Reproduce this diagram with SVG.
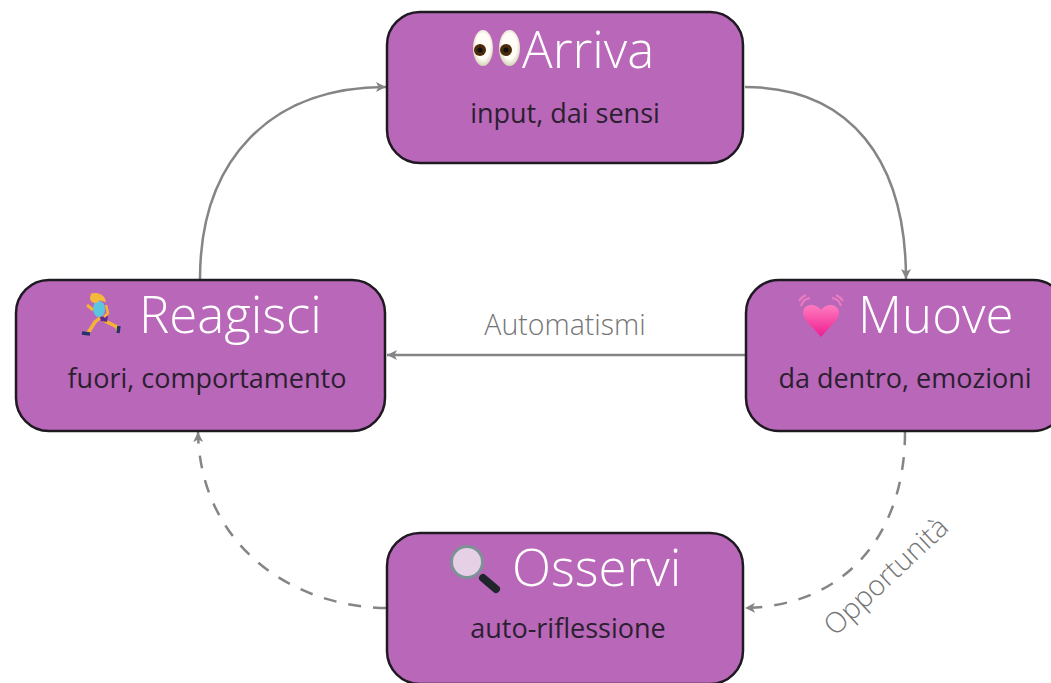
<svg xmlns="http://www.w3.org/2000/svg" width="1051" height="683" viewBox="0 0 1051 683">
<defs>
<marker id="arrow" markerUnits="userSpaceOnUse" markerWidth="12" markerHeight="12" refX="10" refY="5" orient="auto"><path d="M0 0L10 5L0 10L2.5 5Z" fill="#858585"/></marker>
<radialGradient id="eye" cx="0.5" cy="0.45" r="0.6"><stop offset="0.6" stop-color="#fffdf5"/><stop offset="1" stop-color="#c9c6a8"/></radialGradient>
<linearGradient id="heart" x1="0" y1="0" x2="0" y2="1"><stop offset="0" stop-color="#ff7cc0"/><stop offset="1" stop-color="#ee1d90"/></linearGradient>
</defs>
<style>
.box{fill:#b967b9;stroke:#1f1a22;stroke-width:2.5}
.title{font-family:"Open Sans","Noto Sans",sans-serif;font-size:51px;font-weight:300;fill:#fff}
.sub{font-family:"Open Sans","Noto Sans",sans-serif;font-size:27px;fill:#2b1f30}
.lbl{font-family:"Open Sans","Noto Sans",sans-serif;font-size:28.5px;font-weight:300;fill:#757575}
.c{fill:none;stroke:#858585;stroke-width:2.5;marker-end:url(#arrow)}
.d{stroke-dasharray:13 12}
</style>
<rect width="1051" height="683" fill="#fff"/>
<g id="connectors">
<path class="c" d="M745 87C850 87 906 160 906 279"/>
<path class="c" d="M745 355H387"/>
<path class="c" d="M200 279C200 160 270 87 386 87"/>
<path class="c d" d="M905 432C905 535 845 606 745 608"/>
<path class="c d" d="M386 608C285 606 200 540 198 432"/>
<text class="lbl" x="565" y="335" text-anchor="middle">Automatismi</text>
<text class="lbl" transform="translate(835 637) rotate(-43)">Opportunità</text>
</g>
<g id="arriva">
<rect class="box" x="387" y="12" width="356" height="151" rx="33"/>
<ellipse cx="483" cy="48" rx="10" ry="18" fill="url(#eye)"/><ellipse cx="509.500" cy="48" rx="10.500" ry="18" fill="url(#eye)"/>
<circle cx="480" cy="50" r="6" fill="#4a2a08"/><circle cx="506" cy="50" r="6" fill="#4a2a08"/>
<circle cx="480" cy="50" r="2.500" fill="#111"/><circle cx="506" cy="50" r="2.500" fill="#111"/>
<text class="title" x="522" y="68">Arriva</text>
<text class="sub" x="565" y="123" text-anchor="middle">input, dai sensi</text>
</g>
<g id="reagisci">
<rect class="box" x="16" y="280" width="369" height="151" rx="33"/>
<path d="M100 318L95 322L88 333" fill="none" stroke="#f5b335" stroke-width="3.500"/>
<path d="M103 320L117 327L118 332" fill="none" stroke="#f5b335" stroke-width="3.500"/>
<path d="M82 333L90 334" stroke="#27336e" stroke-width="3.500"/><path d="M119 326L118 333" stroke="#27336e" stroke-width="3.500"/>
<ellipse cx="99" cy="309" rx="6" ry="8" fill="#5cc6e0"/>
<path d="M100 317L108 316L107 322L101 321Z" fill="#5b2a8a"/>
<path d="M106 305L108 313L104 317" fill="none" stroke="#f5b335" stroke-width="2.500"/>
<circle cx="95" cy="298" r="5" fill="#f4b93a"/><path d="M90 294C98 291 105 295 106 302L98 300Z" fill="#f4b93a"/>
<path d="M87 305L93 310" stroke="#f5b335" stroke-width="3"/>
<text class="title" x="139" y="333">Reagisci</text>
<text class="sub" x="207" y="388" text-anchor="middle">fuori, comportamento</text>
</g>
<g id="muove">
<rect class="box" x="746" y="280" width="320" height="151" rx="33"/>
<path d="M821 337C812 326 803 320 803 313C803 304 815 302 821 310C827 302 839 304 839 313C839 320 830 326 821 337Z" fill="url(#heart)"/>
<path d="M801 306A11 11 0 0 1 810 298M799 301A15 15 0 0 1 806 295M841 306A11 11 0 0 0 832 298M843 301A15 15 0 0 0 836 295" fill="none" stroke="#ee7cc0" stroke-width="2"/>
<text class="title" x="858" y="333">Muove</text>
<text class="sub" x="905" y="388" text-anchor="middle">da dentro, emozioni</text>
</g>
<g id="osservi">
<rect class="box" x="387" y="533" width="356" height="151" rx="33"/>
<path d="M483 578L496 589" stroke="#20252b" stroke-width="8" stroke-linecap="round"/>
<circle cx="467" cy="562" r="15.500" fill="#e5d0e5" stroke="#7d9296" stroke-width="3"/>
<text class="title" x="512" y="586">Osservi</text>
<text class="sub" x="568" y="638" text-anchor="middle">auto-riflessione</text>
</g>
</svg>
